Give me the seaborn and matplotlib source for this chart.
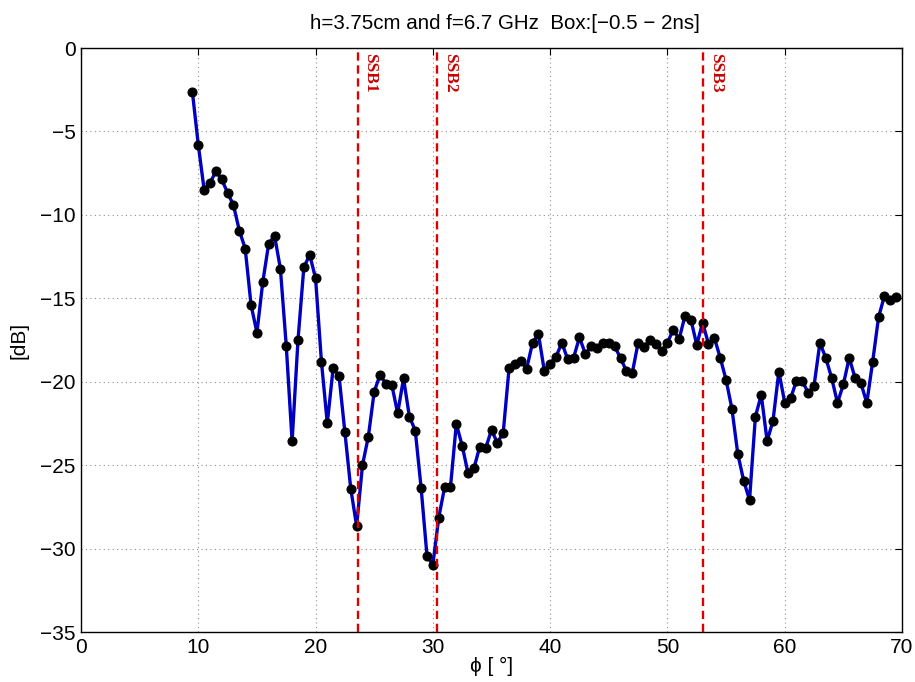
import matplotlib
matplotlib.use('Agg')
import matplotlib.pyplot as plt
import seaborn as sns
import pandas as pd

# ---- data ----
angle_deg = [9.5, 10.0, 10.5, 11.0, 11.5, 12.0, 12.5, 13.0, 13.5, 14.0,
             14.5, 15.0, 15.5, 16.0, 16.5, 17.0, 17.5, 18.0, 18.5, 19.0,
             19.5, 20.0, 20.5, 21.0, 21.5, 22.0, 22.5, 23.0, 23.5, 24.0,
             24.5, 25.0, 25.5, 26.0, 26.5, 27.0, 27.5, 28.0, 28.5, 29.0,
             29.5, 30.0, 30.5, 31.0, 31.5, 32.0, 32.5, 33.0, 33.5, 34.0,
             34.5, 35.0, 35.5, 36.0, 36.5, 37.0, 37.5, 38.0, 38.5, 39.0,
             39.5, 40.0, 40.5, 41.0, 41.5, 42.0, 42.5, 43.0, 43.5, 44.0,
             44.5, 45.0, 45.5, 46.0, 46.5, 47.0, 47.5, 48.0, 48.5, 49.0,
             49.5, 50.0, 50.5, 51.0, 51.5, 52.0, 52.5, 53.0, 53.5, 54.0,
             54.5, 55.0, 55.5, 56.0, 56.5, 57.0, 57.5, 58.0, 58.5, 59.0,
             59.5, 60.0, 60.5, 61.0, 61.5, 62.0, 62.5, 63.0, 63.5, 64.0,
             64.5, 65.0, 65.5, 66.0, 66.5, 67.0, 67.5, 68.0, 68.5, 69.0, 69.5]
level_db = [-2.65, -5.80, -8.50, -8.08, -7.40, -7.88, -8.68, -9.42, -10.94, -12.02,
            -15.40, -17.06, -14.02, -11.74, -11.24, -13.22, -17.84, -23.57, -17.52, -13.14,
            -12.40, -13.80, -18.80, -22.49, -19.17, -19.65, -23.03, -26.41, -28.65, -24.99,
            -23.29, -20.59, -19.59, -20.13, -20.19, -21.89, -19.80, -22.09, -22.93, -26.37,
            -30.44, -30.97, -28.15, -26.33, -26.33, -22.53, -23.83, -25.49, -25.19, -23.89,
            -23.99, -22.89, -23.67, -23.05, -19.17, -18.93, -18.75, -19.21, -17.67, -17.13,
            -19.33, -18.91, -18.50, -17.67, -18.66, -18.56, -17.34, -18.33, -17.88, -17.96,
            -17.66, -17.66, -17.88, -18.58, -19.36, -19.48, -17.67, -17.94, -17.48, -17.74,
            -18.18, -17.66, -16.88, -17.44, -16.04, -16.28, -17.79, -16.46, -17.73, -17.37,
            -18.56, -19.89, -21.63, -24.33, -25.93, -27.09, -22.09, -20.79, -23.55, -22.35,
            -19.39, -21.25, -21.00, -19.95, -19.95, -20.67, -20.25, -17.67, -18.57, -19.77,
            -21.27, -20.16, -18.57, -19.77, -20.10, -21.27, -18.80, -16.14, -14.86, -15.12, -14.94]
ssb_pos = [23.6, 30.35, 53.05]
ssb_labels = ["SSB1", "SSB2", "SSB3"]
x_ticks = [0, 10, 20, 30, 40, 50, 60, 70]
y_ticks = [-35, -30, -25, -20, -15, -10, -5, 0]

df = pd.DataFrame({"angle": angle_deg, "db": level_db})

sns.set_theme(style="white")
plt.rcParams['font.family'] = ['Liberation Sans', 'DejaVu Sans']
plt.rcParams['axes.unicode_minus'] = True
plt.rcParams['text.color'] = 'black'
plt.rcParams['axes.labelcolor'] = 'black'
plt.rcParams['xtick.color'] = 'black'
plt.rcParams['ytick.color'] = 'black'

fig = plt.figure(figsize=(9.15, 6.82), dpi=100)
ax = fig.add_axes([81 / 915, 1 - 632 / 682, 821 / 915, 584 / 682])

sns.lineplot(data=df, x="angle", y="db", ax=ax, color="#0000c0", linewidth=2.4,
             marker="o", markersize=6.5, markerfacecolor="black",
             markeredgecolor="black", estimator=None, sort=False, zorder=3)

for xv, lab in zip(ssb_pos, ssb_labels):
    ax.axvline(xv, color="#dd0000", linestyle=(0, (3.5, 2)), linewidth=1.7, zorder=4)
    ax.text(xv + 0.4, -0.3, lab, rotation=-90, ha="left", va="top",
            family="Liberation Serif", weight="bold", color="#cc0000",
            fontsize=12.5, zorder=5)

ax.set_xlim(0, 70)
ax.set_ylim(-35, 0)
ax.set_xticks(x_ticks)
ax.set_yticks(y_ticks)
ax.grid(True, linestyle=(0, (1, 3)), color="#909090", linewidth=0.8)
ax.tick_params(direction="in", top=True, right=True, length=5, width=0.8,
               labelsize=15, colors="black", labelcolor="black", pad=4)
for s in ax.spines.values():
    s.set_color("black")
    s.set_linewidth(1.0)

ax.set_xlabel("ϕ [ °]", fontsize=15, labelpad=0, color="black")
ax.set_ylabel("[dB]", fontsize=15, labelpad=8, color="black")
ax.set_title("h=3.75cm and f=6.7 GHz  Box:[\u22120.5 \u2212 2ns]", fontsize=14.8,
             pad=14, color="black", x=0.516)

fig.savefig("out.png", dpi=100)
